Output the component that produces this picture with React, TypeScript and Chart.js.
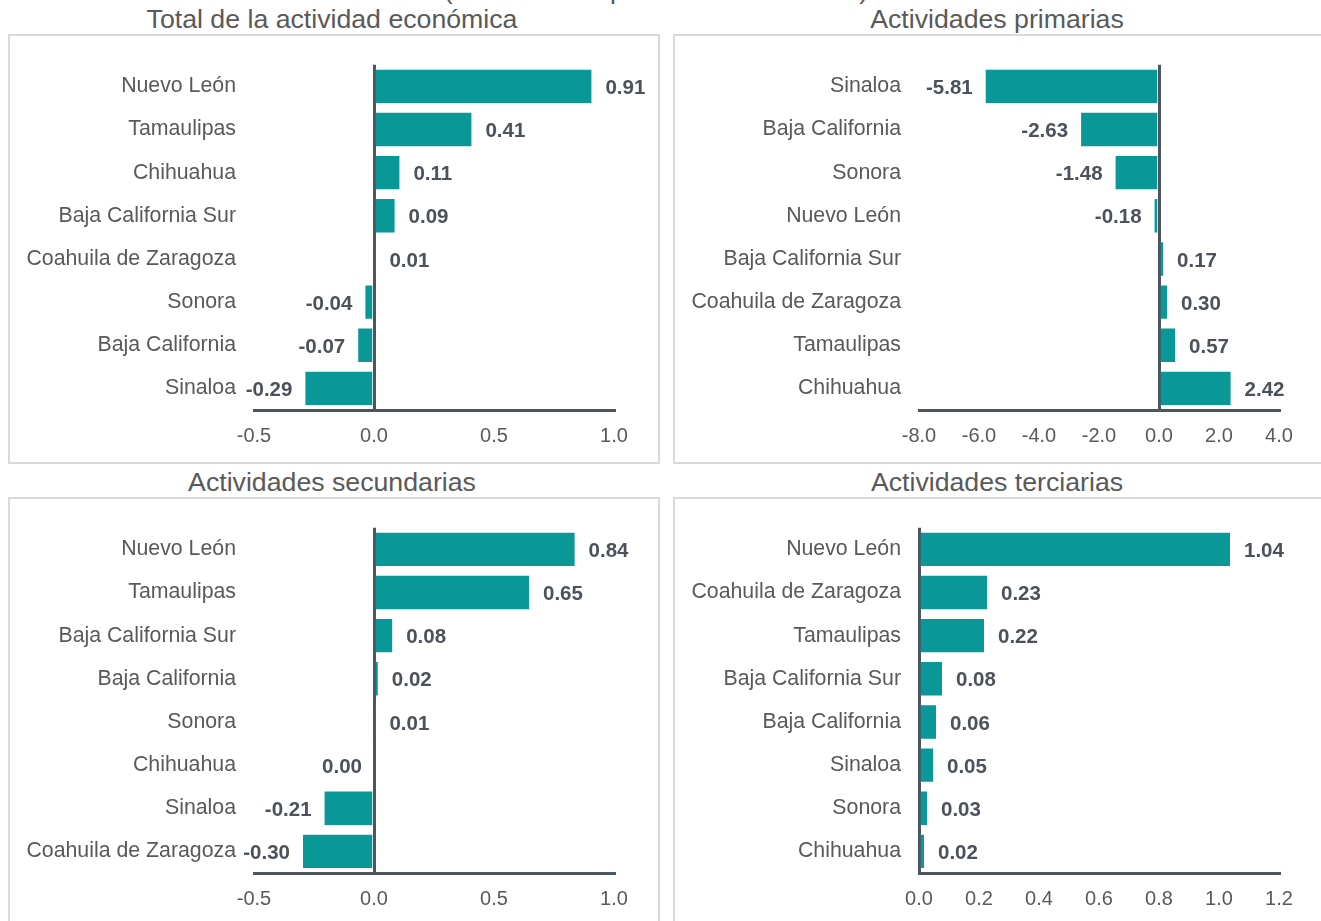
import { useEffect, useRef } from "react";
import { Chart, registerables } from "chart.js";

Chart.register(...registerables);

const FONT = '"Liberation Sans", Arial, Helvetica, sans-serif';
const BAR = "#0a9797";
const AXIS = "#4d5660";
const TEXT = "#595959";
const LABEL = "#4b525a";

// Panel 1: Total de la actividad económica
const totalTitle = "Total de la actividad económica";
const totalStates = [
  "Nuevo León",
  "Tamaulipas",
  "Chihuahua",
  "Baja California Sur",
  "Coahuila de Zaragoza",
  "Sonora",
  "Baja California",
  "Sinaloa",
];
const totalValues = [0.91, 0.41, 0.11, 0.09, 0.01, -0.04, -0.07, -0.29];
const totalTicks = [-0.5, 0.0, 0.5, 1.0];

// Panel 2: Actividades primarias
const primTitle = "Actividades primarias";
const primStates = [
  "Sinaloa",
  "Baja California",
  "Sonora",
  "Nuevo León",
  "Baja California Sur",
  "Coahuila de Zaragoza",
  "Tamaulipas",
  "Chihuahua",
];
const primValues = [-5.81, -2.63, -1.48, -0.18, 0.17, 0.3, 0.57, 2.42];
const primTicks = [-8.0, -6.0, -4.0, -2.0, 0.0, 2.0, 4.0];

// Panel 3: Actividades secundarias
const secTitle = "Actividades secundarias";
const secStates = [
  "Nuevo León",
  "Tamaulipas",
  "Baja California Sur",
  "Baja California",
  "Sonora",
  "Chihuahua",
  "Sinaloa",
  "Coahuila de Zaragoza",
];
const secValues = [0.84, 0.65, 0.08, 0.02, 0.01, 0.0, -0.21, -0.3];
const secTicks = [-0.5, 0.0, 0.5, 1.0];

// Panel 4: Actividades terciarias
const terTitle = "Actividades terciarias";
const terStates = [
  "Nuevo León",
  "Coahuila de Zaragoza",
  "Tamaulipas",
  "Baja California Sur",
  "Baja California",
  "Sinaloa",
  "Sonora",
  "Chihuahua",
];
const terValues = [1.04, 0.23, 0.22, 0.08, 0.06, 0.05, 0.03, 0.02];
const terTicks = [0.0, 0.2, 0.4, 0.6, 0.8, 1.0, 1.2];

const topLine = "(Contribución porcentual anual real)";

const valueLabels = {
  id: "valueLabels",
  afterDatasetsDraw(chart: any) {
    const ctx = chart.ctx;
    const meta = chart.getDatasetMeta(0);
    const data = chart.data.datasets[0].data as number[];
    ctx.save();
    ctx.font = "bold 20.5px " + FONT;
    ctx.fillStyle = LABEL;
    ctx.textBaseline = "middle";
    meta.data.forEach((bar: any, i: number) => {
      const v = data[i];
      const pos = v > 0;
      ctx.textAlign = pos ? "left" : "right";
      const x = pos ? bar.x + 13 : bar.x - 12;
      ctx.fillText(v.toFixed(2), x, bar.y + 2);
    });
    ctx.restore();
  },
};

type PanelProps = {
  left: number;
  top: number;
  width: number;
  height: number;
  labels: string[];
  values: number[];
  ticks: number[];
  yWidth: number;
  padRight: number;
  padTop: number;
  xHeight: number;
};

function BarPanel(p: PanelProps) {
  const ref = useRef<HTMLCanvasElement | null>(null);
  useEffect(() => {
    if (!ref.current) return;
    const tickVals = p.ticks;
    const chart = new Chart(ref.current, {
      type: "bar",
      data: {
        labels: p.labels,
        datasets: [
          {
            data: p.values,
            backgroundColor: BAR,
            borderColor: "rgba(255,255,255,0.45)",
            borderWidth: 1,
            categoryPercentage: 0.82,
            barPercentage: 1.0,
          },
        ],
      },
      options: {
        indexAxis: "y",
        responsive: false,
        animation: false,
        devicePixelRatio: 1,
        layout: { padding: { left: 0, right: p.padRight, top: p.padTop, bottom: 0 } },
        plugins: { legend: { display: false }, tooltip: { enabled: false } },
        scales: {
          x: {
            type: "linear",
            min: tickVals[0],
            max: tickVals[tickVals.length - 1],
            z: 1,
            afterBuildTicks: (s: any) => {
              s.ticks = tickVals.map((v) => ({ value: v }));
            },
            afterFit: (s: any) => {
              s.height = p.xHeight;
            },
            grid: {
              display: true,
              drawTicks: false,
              lineWidth: 3,
              color: (c: any) => (c.tick && c.tick.value === 0 ? AXIS : "rgba(0,0,0,0)"),
            },
            border: { display: true, color: AXIS, width: 3 },
            ticks: {
              padding: 14,
              color: TEXT,
              font: { family: FONT, size: 20 },
              maxRotation: 0,
              autoSkip: false,
              callback: (v: any) => Number(v).toFixed(1),
            },
          },
          y: {
            afterFit: (s: any) => {
              s.width = p.yWidth;
            },
            grid: { display: false, drawTicks: false },
            border: { display: false },
            ticks: {
              padding: 18,
              color: TEXT,
              font: { family: FONT, size: 21.3 },
              autoSkip: false,
            },
          },
        },
      },
      plugins: [valueLabels],
    } as any);
    return () => chart.destroy();
  }, []);
  return (
    <canvas
      ref={ref}
      width={p.width}
      height={p.height}
      style={{ position: "absolute", left: p.left, top: p.top, width: p.width, height: p.height }}
    />
  );
}

function Frame({ left, top, width, height }: { left: number; top: number; width: number; height: number }) {
  return (
    <div
      style={{
        position: "absolute",
        left,
        top,
        width,
        height,
        boxSizing: "border-box",
        border: "2px solid #dadada",
        background: "#ffffff",
      }}
    />
  );
}

function Title({ text, center, top }: { text: string; center: number; top: number }) {
  return (
    <div
      style={{
        position: "absolute",
        left: center - 300,
        width: 600,
        top,
        textAlign: "center",
        fontFamily: FONT,
        fontSize: 26.7,
        lineHeight: "26px",
        color: TEXT,
        whiteSpace: "nowrap",
      }}
    >
      {text}
    </div>
  );
}

export default function App() {
  return (
    <div
      style={{
        position: "absolute",
        left: 0,
        top: 0,
        width: 1321,
        height: 921,
        overflow: "hidden",
        background: "#ffffff",
      }}
    >
      <Title text={topLine} center={656} top={-23} />
      <Frame left={8} top={34} width={652} height={430} />
      <Frame left={673} top={34} width={700} height={430} />
      <Frame left={8} top={497} width={652} height={500} />
      <Frame left={673} top={497} width={700} height={500} />
      <Title text={totalTitle} center={332} top={6} />
      <Title text={primTitle} center={997} top={6} />
      <Title text={secTitle} center={332} top={469} />
      <Title text={terTitle} center={997} top={469} />
      <BarPanel
        left={0}
        top={34}
        width={660}
        height={430}
        labels={totalStates}
        values={totalValues}
        ticks={totalTicks}
        yWidth={254}
        padRight={46}
        padTop={29}
        xHeight={54}
      />
      <BarPanel
        left={673}
        top={34}
        width={648}
        height={430}
        labels={primStates}
        values={primValues}
        ticks={primTicks}
        yWidth={246}
        padRight={42}
        padTop={29}
        xHeight={54}
      />
      <BarPanel
        left={0}
        top={497}
        width={660}
        height={424}
        labels={secStates}
        values={secValues}
        ticks={secTicks}
        yWidth={254}
        padRight={46}
        padTop={29}
        xHeight={48}
      />
      <BarPanel
        left={673}
        top={497}
        width={648}
        height={424}
        labels={terStates}
        values={terValues}
        ticks={terTicks}
        yWidth={246}
        padRight={42}
        padTop={29}
        xHeight={48}
      />
    </div>
  );
}
